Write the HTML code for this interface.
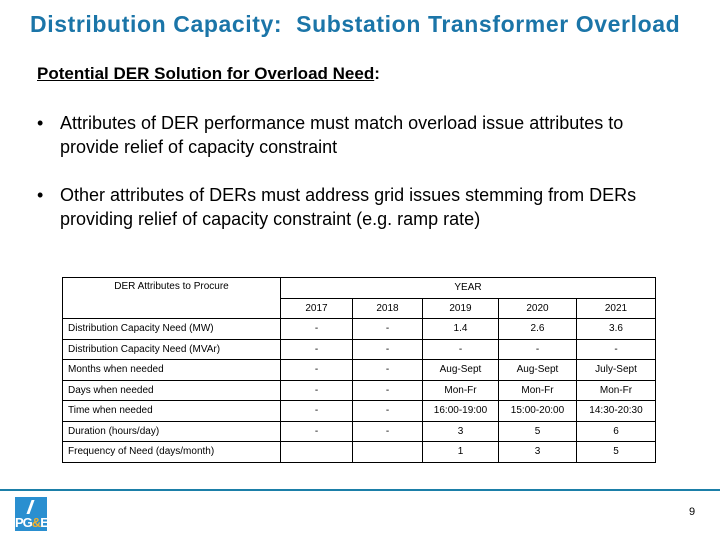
<!DOCTYPE html>
<html><head><meta charset="utf-8"><style>
body{margin:0;width:720px;height:540px;background:#fff;position:relative;overflow:hidden;font-family:"Liberation Sans",sans-serif;color:#000}
.t{position:absolute;white-space:nowrap}
table{position:absolute;left:62px;top:277px;border-collapse:collapse;font-size:10px}
td{border:1.5px solid #000;height:19.5px;padding:0 5px;text-align:center;box-sizing:border-box}
td.l{text-align:left}
</style></head><body>
<div class="t" style="left:30px;top:11px;font-size:23px;font-weight:bold;color:#1b75a8;letter-spacing:0.6px">Distribution Capacity:&nbsp; Substation Transformer Overload</div>
<div class="t" style="left:37px;top:64px;font-size:17px;font-weight:bold"><u>Potential DER Solution for Overload Need</u>:</div>
<div class="t" style="left:37px;top:111px;font-size:18px;line-height:24px"><span style="position:absolute;left:0">•</span><span style="position:absolute;left:23px">Attributes of DER performance must match overload issue attributes to<br>provide relief of capacity constraint</span></div>
<div class="t" style="left:37px;top:183px;font-size:18px;line-height:24px"><span style="position:absolute;left:0">•</span><span style="position:absolute;left:23px">Other attributes of DERs must address grid issues stemming from DERs<br>providing relief of capacity constraint (e.g. ramp rate)</span></div>
<table>
<colgroup><col style="width:218px"><col style="width:72px"><col style="width:70px"><col style="width:76px"><col style="width:78px"><col style="width:79px"></colgroup>
<tr><td rowspan="2" style="vertical-align:top;padding-top:3px">DER Attributes to Procure</td><td colspan="5" style="height:20.5px">YEAR</td></tr>
<tr><td style="height:20.5px">2017</td><td>2018</td><td>2019</td><td>2020</td><td>2021</td></tr>
<tr><td class="l" style="height:20.5px">Distribution Capacity Need (MW)</td><td>-</td><td>-</td><td>1.4</td><td>2.6</td><td>3.6</td></tr>
<tr><td class="l" style="height:20.5px">Distribution Capacity Need (MVAr)</td><td>-</td><td>-</td><td>-</td><td>-</td><td>-</td></tr>
<tr><td class="l" style="height:20.5px">Months when needed</td><td>-</td><td>-</td><td>Aug-Sept</td><td>Aug-Sept</td><td>July-Sept</td></tr>
<tr><td class="l" style="height:20.5px">Days when needed</td><td>-</td><td>-</td><td>Mon-Fr</td><td>Mon-Fr</td><td>Mon-Fr</td></tr>
<tr><td class="l" style="height:20.5px">Time when needed</td><td>-</td><td>-</td><td>16:00-19:00</td><td>15:00-20:00</td><td>14:30-20:30</td></tr>
<tr><td class="l" style="height:20.5px">Duration (hours/day)</td><td>-</td><td>-</td><td>3</td><td>5</td><td>6</td></tr>
<tr><td class="l" style="height:20.5px">Frequency of Need (days/month)</td><td></td><td></td><td>1</td><td>3</td><td>5</td></tr>
</table>
<div style="position:absolute;left:0;top:489px;width:720px;height:2px;background:#1b7fa8"></div>
<div style="position:absolute;left:15px;top:497px;width:32px;height:34px;background:#2a8fd0">
<div class="t" style="left:0;top:18px;font-size:13px;font-weight:bold;color:#fff;letter-spacing:-1px">PG<span style="color:#f0b030">&amp;</span>E</div>
<div style="position:absolute;left:14px;top:3px;width:3px;height:14px;background:#fff;transform:skewX(-20deg)"></div></div>
<div class="t" style="left:689px;top:506px;font-size:11px">9</div>
</body></html>
